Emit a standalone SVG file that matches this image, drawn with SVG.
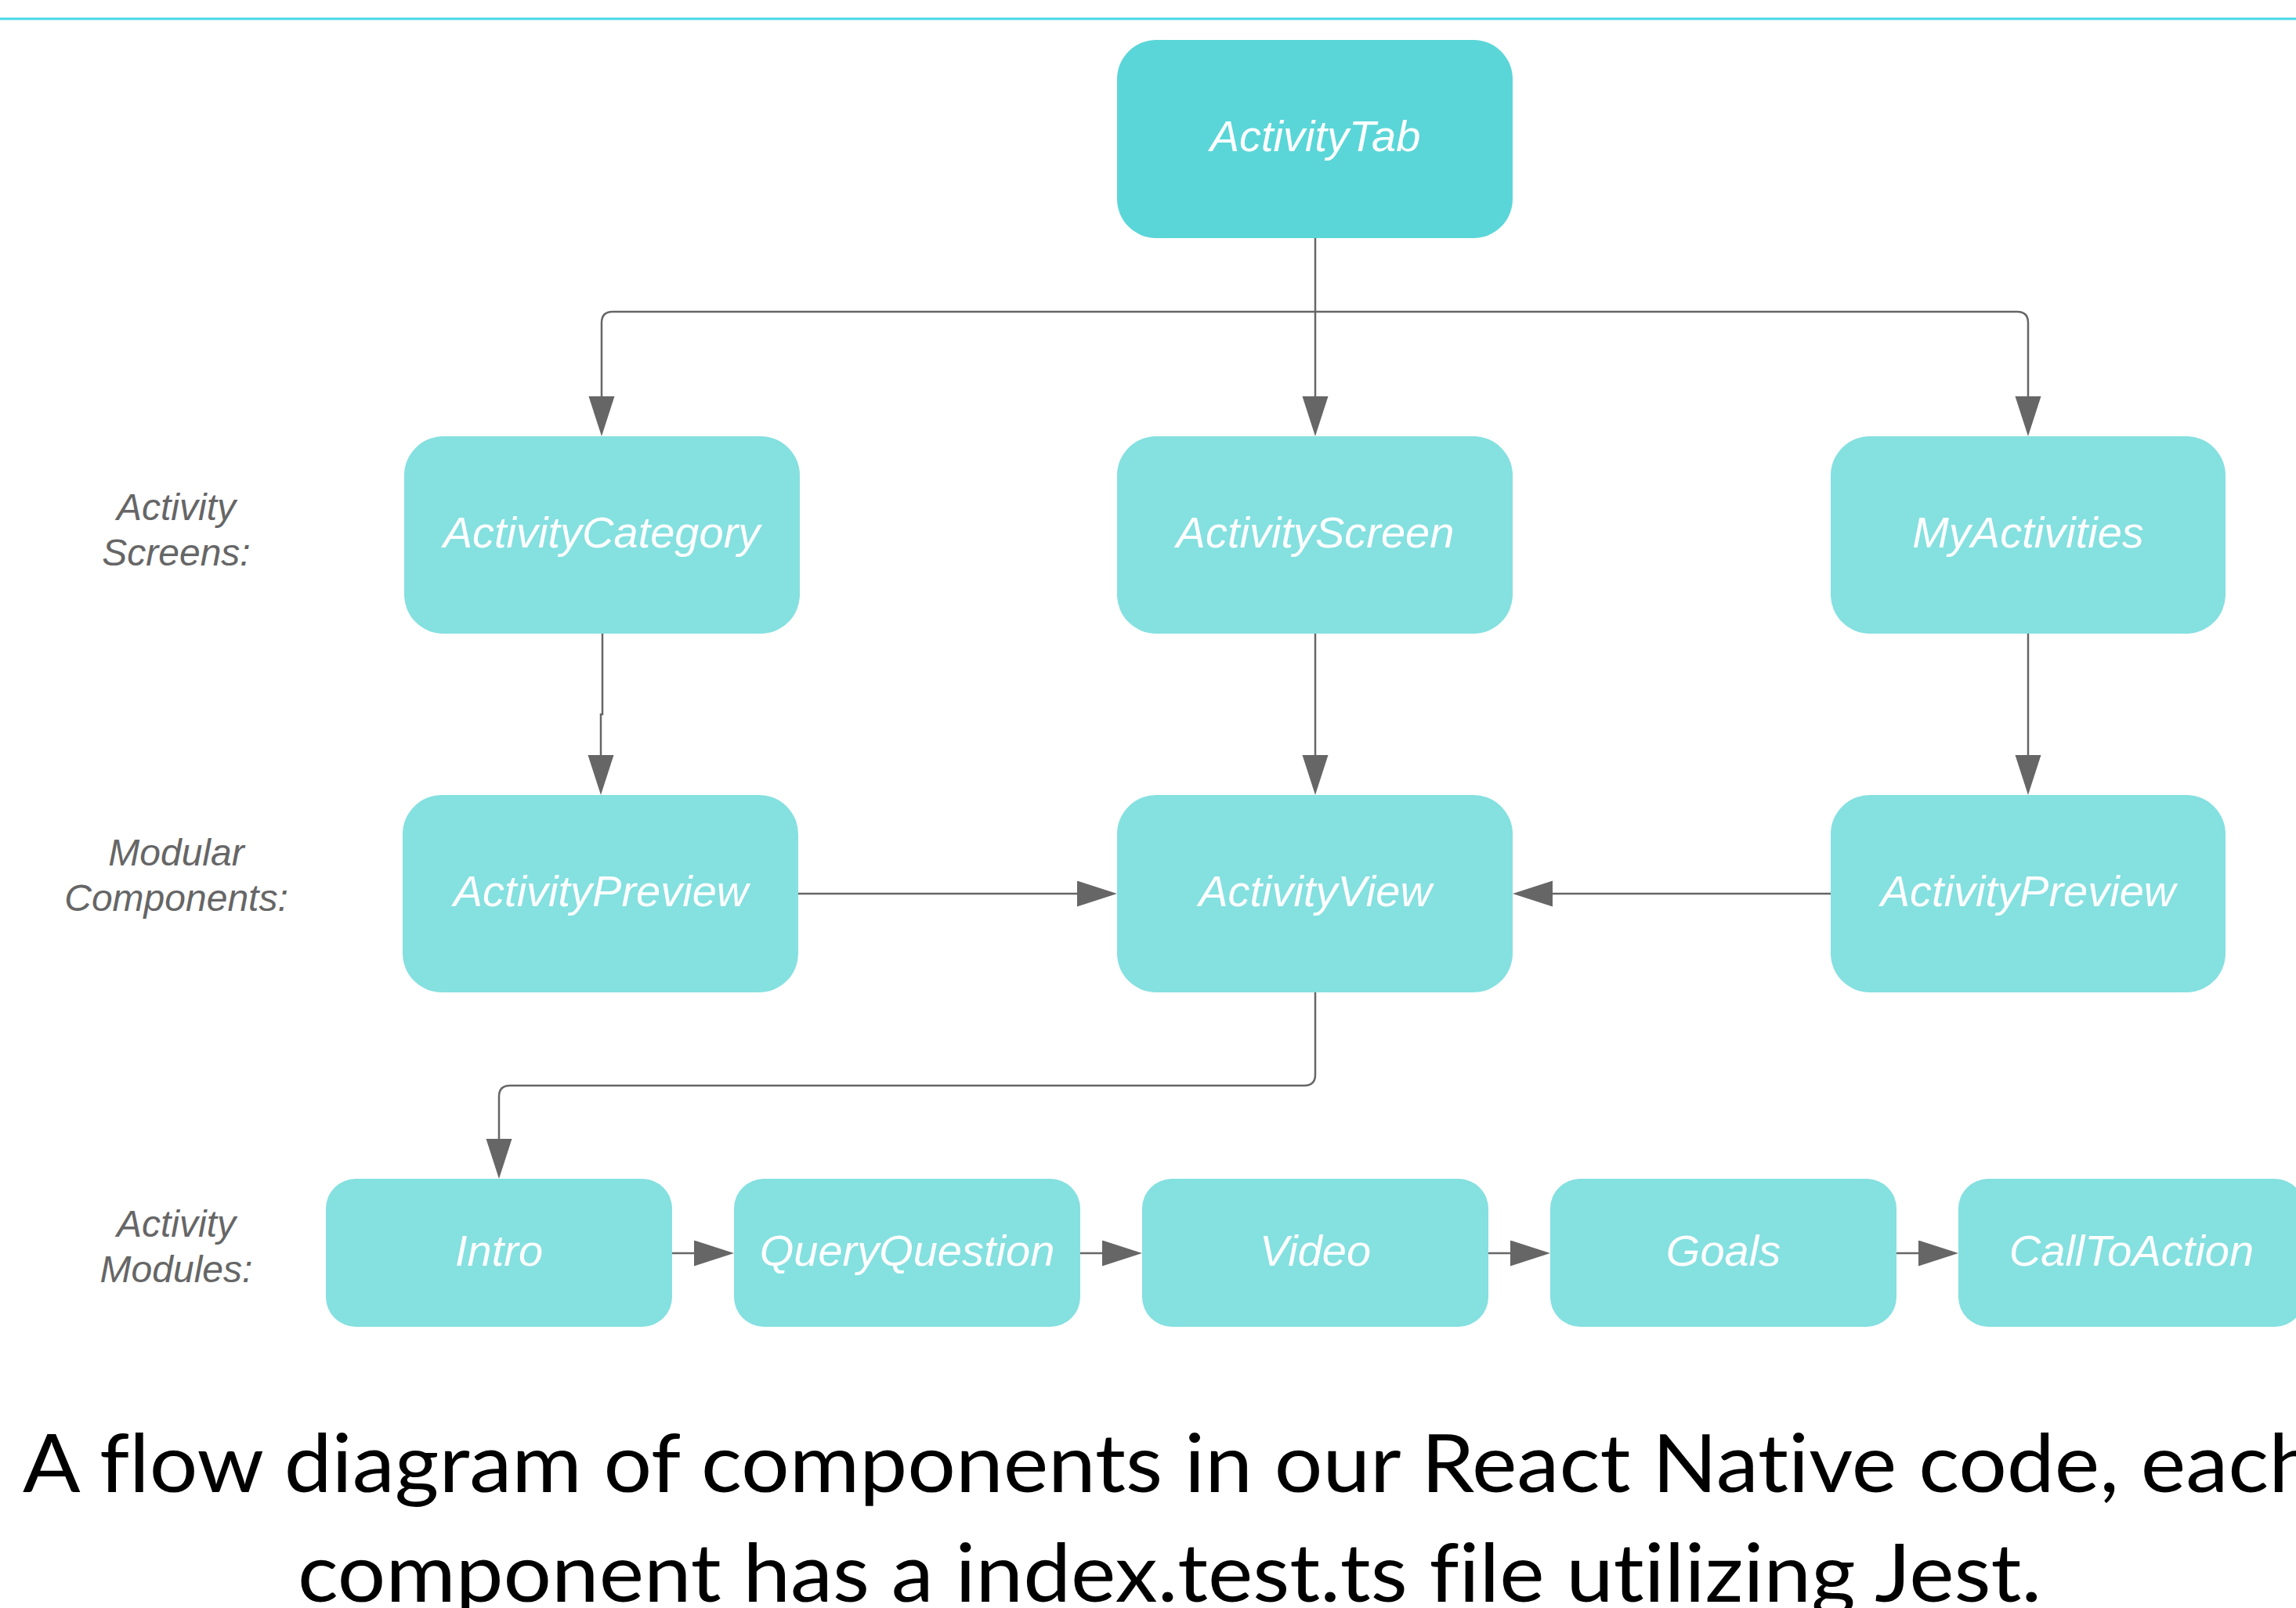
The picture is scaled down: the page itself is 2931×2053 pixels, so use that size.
<svg xmlns="http://www.w3.org/2000/svg" width="2931" height="2053" viewBox="0 0 2931 2053">
<style>
.box{fill:#85E0E0}
.top{fill:#5AD6D8}
.lbl{font-family:"Liberation Sans",Arial,sans-serif;font-style:italic;font-size:56px;fill:#FFFFFF;text-anchor:middle}
.side{font-family:"Liberation Sans",Arial,sans-serif;font-style:italic;font-size:48px;fill:#666666;text-anchor:middle}
.cap{font-family:Lato,"Open Sans",sans-serif;font-size:103px;fill:#000000;font-variant-ligatures:none}
.conn{fill:none;stroke:#666666;stroke-width:2.5}
</style>
<defs>
<marker id="arr" markerUnits="userSpaceOnUse" markerWidth="52" markerHeight="34" refX="41" refY="16.5" orient="auto">
<path d="M0,0 L51,16.5 L0,33 Z" fill="#666666"/>
</marker>
</defs>
<rect width="2931" height="2053" fill="#FFFFFF"/>
<line x1="0" y1="24" x2="2931" y2="24" stroke="#45D8E6" stroke-width="3"/>

<g id="connectors">
<path class="conn" d="M1679,304 V547" marker-end="url(#arr)"/>
<path class="conn" d="M1679,398 H782 Q768,398 768,412 V547" marker-end="url(#arr)"/>
<path class="conn" d="M1679,398 H2575 Q2589,398 2589,412 V547" marker-end="url(#arr)"/>
<path class="conn" d="M769,809 V912 H767 V1005" marker-end="url(#arr)"/>
<path class="conn" d="M1679,809 V1005" marker-end="url(#arr)"/>
<path class="conn" d="M2589,809 V1005" marker-end="url(#arr)"/>
<path class="conn" d="M1019,1141 H1416" marker-end="url(#arr)"/>
<path class="conn" d="M2337,1141 H1941" marker-end="url(#arr)"/>
<path class="conn" d="M1679,1267 V1372 Q1679,1386 1665,1386 H651 Q637,1386 637,1400 V1495" marker-end="url(#arr)"/>
<path class="conn" d="M858,1600 H927" marker-end="url(#arr)"/>
<path class="conn" d="M1379,1600 H1448" marker-end="url(#arr)"/>
<path class="conn" d="M1900,1600 H1969" marker-end="url(#arr)"/>
<path class="conn" d="M2421,1600 H2490" marker-end="url(#arr)"/>
</g>

<g id="activity-tab"><rect class="top" x="1426" y="51" width="505" height="253" rx="50"/><text class="lbl" x="1679" y="193">ActivityTab</text></g>
<g id="activity-category"><rect class="box" x="516" y="557" width="505" height="252" rx="50"/><text class="lbl" x="768" y="699">ActivityCategory</text></g>
<g id="activity-screen"><rect class="box" x="1426" y="557" width="505" height="252" rx="50"/><text class="lbl" x="1679" y="699">ActivityScreen</text></g>
<g id="my-activities"><rect class="box" x="2337" y="557" width="504" height="252" rx="50"/><text class="lbl" x="2589" y="699">MyActivities</text></g>
<g id="activity-preview-left"><rect class="box" x="514" y="1015" width="505" height="252" rx="50"/><text class="lbl" x="767" y="1157">ActivityPreview</text></g>
<g id="activity-view"><rect class="box" x="1426" y="1015" width="505" height="252" rx="50"/><text class="lbl" x="1679" y="1157">ActivityView</text></g>
<g id="activity-preview-right"><rect class="box" x="2337" y="1015" width="504" height="252" rx="50"/><text class="lbl" x="2589" y="1157">ActivityPreview</text></g>
<g id="intro"><rect class="box" x="416" y="1505" width="442" height="189" rx="38"/><text class="lbl" x="637" y="1616">Intro</text></g>
<g id="query-question"><rect class="box" x="937" y="1505" width="442" height="189" rx="38"/><text class="lbl" x="1158" y="1616">QueryQuestion</text></g>
<g id="video"><rect class="box" x="1458" y="1505" width="442" height="189" rx="38"/><text class="lbl" x="1679" y="1616">Video</text></g>
<g id="goals"><rect class="box" x="1979" y="1505" width="442" height="189" rx="38"/><text class="lbl" x="2200" y="1616">Goals</text></g>
<g id="call-to-action"><rect class="box" x="2500" y="1505" width="442" height="189" rx="38"/><text class="lbl" x="2721" y="1616">CallToAction</text></g>

<g id="side-labels">
<text class="side" x="225" y="664">Activity</text>
<text class="side" x="225" y="722">Screens:</text>
<text class="side" x="225" y="1105">Modular</text>
<text class="side" x="225" y="1163">Components:</text>
<text class="side" x="225" y="1579">Activity</text>
<text class="side" x="225" y="1637">Modules:</text>
</g>

<g id="caption">
<text class="cap" x="29" y="1905" textLength="2928" lengthAdjust="spacingAndGlyphs">A flow diagram of components in our React Native code, each</text>
<text class="cap" x="380" y="2045" textLength="2226" lengthAdjust="spacingAndGlyphs">component has a index.test.ts file utilizing Jest.</text>
</g>
</svg>
